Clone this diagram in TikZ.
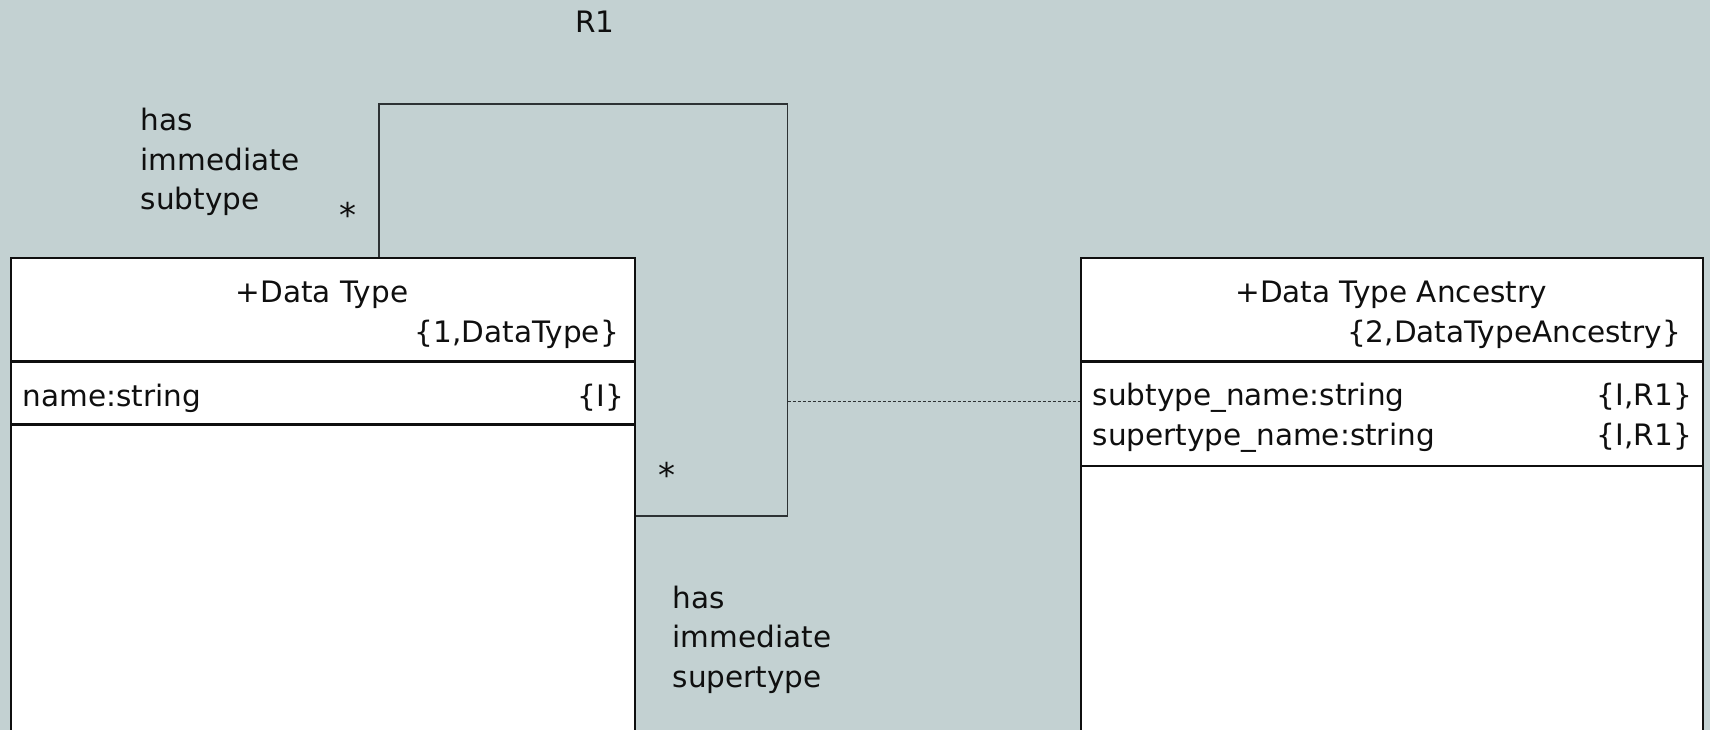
\documentclass[tikz,border=0pt]{standalone}
\usepackage{fontspec}
\setmainfont{DejaVu Sans}
\definecolor{canvas}{RGB}{195,209,210}
\definecolor{ink}{RGB}{15,15,15}
\definecolor{wire}{RGB}{45,50,52}
\tikzset{
  classbox/.style={draw=ink, line width=2.4pt, fill=white, rectangle, inner sep=0pt, anchor=north west},
  divider/.style={draw=ink, line width=2.2pt},
  txt/.style={inner sep=0pt, text=ink},
  multtxt/.style={inner sep=0pt, text=ink, font=\fontsize{34}{40}\selectfont},
  relline/.style={draw=wire, line width=1.4pt},
  assocline/.style={draw=wire, line width=1pt, dash pattern=on 3pt off 2pt},
}
\newcommand{\rolelines}[1]{\begin{tabular}[t]{@{}l@{}}#1\end{tabular}}
\begin{document}
\begin{tikzpicture}[x=1pt, y=-1pt, font=\fontsize{29.5}{39.5}\selectfont]
  \useasboundingbox (0,0) rectangle (1710,730);
  \fill[canvas] (0,0) rectangle (1710,730);
  \clip (0,0) rectangle (1710,730);

  % class Data Type
  \node[classbox, minimum width=624pt, minimum height=600pt] (dt) at (10,257) {};
  \draw[divider] ([yshift=-104.5pt]dt.north west) -- ([yshift=-104.5pt]dt.north east);
  \draw[divider] ([yshift=-167.5pt]dt.north west) -- ([yshift=-167.5pt]dt.north east);
  \node[txt, anchor=base] (dttitle) at (322,302) {+Data Type};
  \node[txt, anchor=base east] (dtkey) at (619,342) {\{1,DataType\}};
  \node[txt, anchor=base west] (dtattr) at (22.5,406) {name:string};
  \node[txt, anchor=base east] (dtattrkey) at (624,406) {\{I\}};

  % class Data Type Ancestry
  \node[classbox, minimum width=622pt, minimum height=600pt] (dta) at (1080,257) {};
  \draw[divider] ([yshift=-104.5pt]dta.north west) -- ([yshift=-104.5pt]dta.north east);
  \draw[divider] ([yshift=-209pt]dta.north west) -- ([yshift=-209pt]dta.north east);
  \node[txt, anchor=base] (dtatitle) at (1391,302) {+Data Type Ancestry};
  \node[txt, anchor=base east] (dtakey) at (1681,342) {\{2,DataTypeAncestry\}};
  \node[txt, anchor=base west] (dtaattra) at (1092.5,405) {subtype\_name:string};
  \node[txt, anchor=base east] (dtaattrakey) at (1692,405) {\{I,R1\}};
  \node[txt, anchor=base west] (dtaattrb) at (1092.5,445) {supertype\_name:string};
  \node[txt, anchor=base east] (dtaattrbkey) at (1692,445) {\{I,R1\}};

  % reflexive association R1
  \coordinate (loopnw) at (379,104);
  \coordinate (loopse) at (787.5,516);
  \coordinate (loopmid) at (787.5,401);
  \draw[relline] (dt.north -| loopnw) -- (loopnw) -| (loopse) -- (loopse -| dt.east);
  \draw[assocline] (loopmid) -- (loopmid -| dta.west);

  \node[txt, anchor=base] (rname) at (595,33) {R1};
  \node[txt, anchor=base west] (rolesub) at (140.5,131) {\rolelines{has\\immediate\\subtype}};
  \node[multtxt, anchor=base] (multsub) at (348,228) {*};
  \node[txt, anchor=base west] (rolesuper) at (672.5,608) {\rolelines{has\\immediate\\supertype}};
  \node[multtxt, anchor=base] (multsuper) at (667,487) {*};
\end{tikzpicture}
\end{document}
